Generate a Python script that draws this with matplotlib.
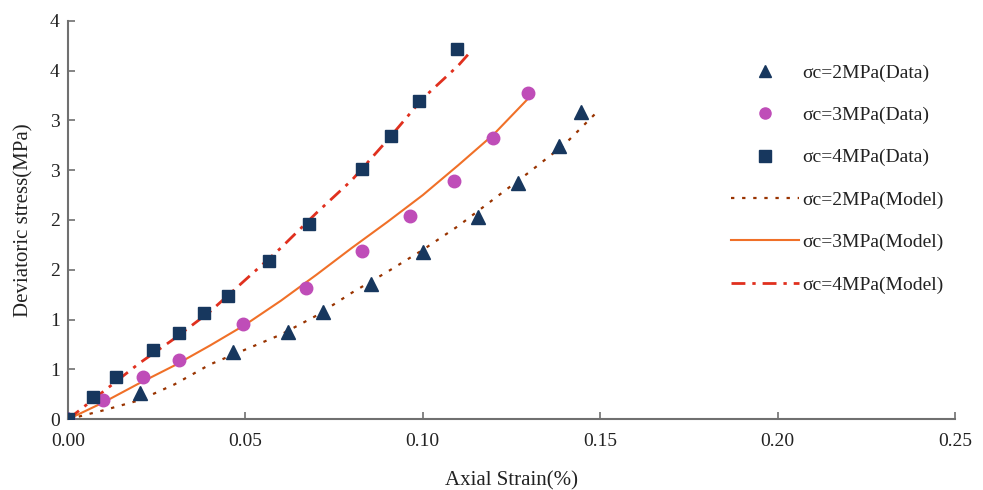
import matplotlib
matplotlib.use('Agg')
import matplotlib.pyplot as plt
from matplotlib.ticker import MultipleLocator

plt.rcParams['font.family'] = ['Liberation Serif', 'DejaVu Serif']
plt.rcParams['mathtext.fontset'] = 'stix'

# measured data (axial strain %, deviatoric stress MPa)
d2_x = [0, 0.0204, 0.0466, 0.0621, 0.0718, 0.0854, 0.1000, 0.1155, 0.1267, 0.1385, 0.1446]
d2_y = [0, 0.26, 0.68, 0.88, 1.08, 1.36, 1.68, 2.03, 2.37, 2.74, 3.08]

d3_x = [0, 0.0098, 0.0211, 0.0314, 0.0492, 0.0670, 0.0829, 0.0965, 0.1087, 0.1199, 0.1297]
d3_y = [0, 0.19, 0.42, 0.60, 0.96, 1.32, 1.69, 2.04, 2.39, 2.82, 3.27]

d4_x = [0, 0.0071, 0.0135, 0.0239, 0.0314, 0.0384, 0.0450, 0.0567, 0.0680, 0.0829, 0.0910, 0.0989, 0.1096]
d4_y = [0, 0.22, 0.42, 0.70, 0.87, 1.07, 1.24, 1.59, 1.96, 2.51, 2.84, 3.19, 3.72]

# model curves
m2_x = [0, 0.01, 0.02, 0.03, 0.04, 0.05, 0.06, 0.07, 0.08, 0.09, 0.10, 0.11, 0.12, 0.13, 0.14, 0.149]
m2_y = [0, 0.09, 0.19, 0.35, 0.55, 0.70, 0.85, 1.04, 1.27, 1.48, 1.70, 1.94, 2.21, 2.48, 2.76, 3.08]

m3_x = [0, 0.01, 0.02, 0.03, 0.04, 0.05, 0.06, 0.07, 0.08, 0.09, 0.10, 0.11, 0.12, 0.13]
m3_y = [0, 0.17, 0.36, 0.54, 0.74, 0.95, 1.19, 1.45, 1.72, 1.98, 2.25, 2.55, 2.86, 3.23]

m4_x = [0, 0.01, 0.02, 0.03, 0.04, 0.05, 0.06, 0.07, 0.08, 0.09, 0.10, 0.11, 0.114]
m4_y = [0, 0.28, 0.56, 0.81, 1.08, 1.40, 1.72, 2.07, 2.40, 2.80, 3.22, 3.55, 3.71]

x_ticks = [0, 0.05, 0.10, 0.15, 0.20, 0.25]
x_labels = ['0.00', '0.05', '0.10', '0.15', '0.20', '0.25']
y_ticks = [0, 0.5, 1.0, 1.5, 2.0, 2.5, 3.0, 3.5, 4.0]
y_labels = ['0', '1', '1', '2', '2', '3', '3', '4', '4']

navy = '#17375E'
fig = plt.figure(figsize=(9.83, 4.9), dpi=100)
ax = fig.add_axes([0.0692, 0.1443, 0.9023, 0.8135])

ax.plot(d2_x, d2_y, linestyle='none', marker='^', ms=10, color=navy, label='σc=2MPa(Data)', zorder=3)
ax.plot(d3_x, d3_y, linestyle='none', marker='o', ms=9, color='#BF4DB8', label='σc=3MPa(Data)', zorder=3)
ax.plot(d4_x, d4_y, linestyle='none', marker='s', ms=8.5, color=navy, label='σc=4MPa(Data)', zorder=3)

ax.plot(m2_x, m2_y, color='#993300', lw=1.6, dashes=(1.5, 3.5), label='σc=2MPa(Model)')
ax.plot(m3_x, m3_y, color='#F07028', lw=1.5, label='σc=3MPa(Model)')
ax.plot(m4_x, m4_y, color='#E0301E', lw=2, dashes=(5, 2.5, 1.2, 2.5), label='σc=4MPa(Model)')

ax.set_xlim(0, 0.25)
ax.set_ylim(0, 4)
ax.set_xticks(x_ticks)
ax.set_xticklabels(x_labels)
ax.set_yticks(y_ticks)
ax.set_yticklabels(y_labels)

for s in ['top', 'right']:
    ax.spines[s].set_visible(False)
for s in ['left', 'bottom']:
    ax.spines[s].set_color('#707070')
    ax.spines[s].set_linewidth(1.5)
    ax.spines[s].set_zorder(0.5)
ax.tick_params(direction='in', length=5, width=1.2, color='#707070', labelsize=14, labelcolor='#222222')
ax.tick_params(axis='x', pad=10)
ax.tick_params(axis='y', pad=6)

ax.set_xlabel('Axial Strain(%)', fontsize=15, color='#222222', labelpad=15)
ax.set_ylabel('Deviatoric stress(MPa)', fontsize=15, color='#222222', labelpad=12)

leg = ax.legend(loc='upper left', bbox_to_anchor=(0.728, 0.935), frameon=False, fontsize=14,
                handlelength=3.5, handletextpad=0.15, labelspacing=1.27, numpoints=1,
                labelcolor='#222222')
for h in leg.legend_handles[:3]:
    h.set_markersize(8)

plt.savefig('out.png', dpi=100)
